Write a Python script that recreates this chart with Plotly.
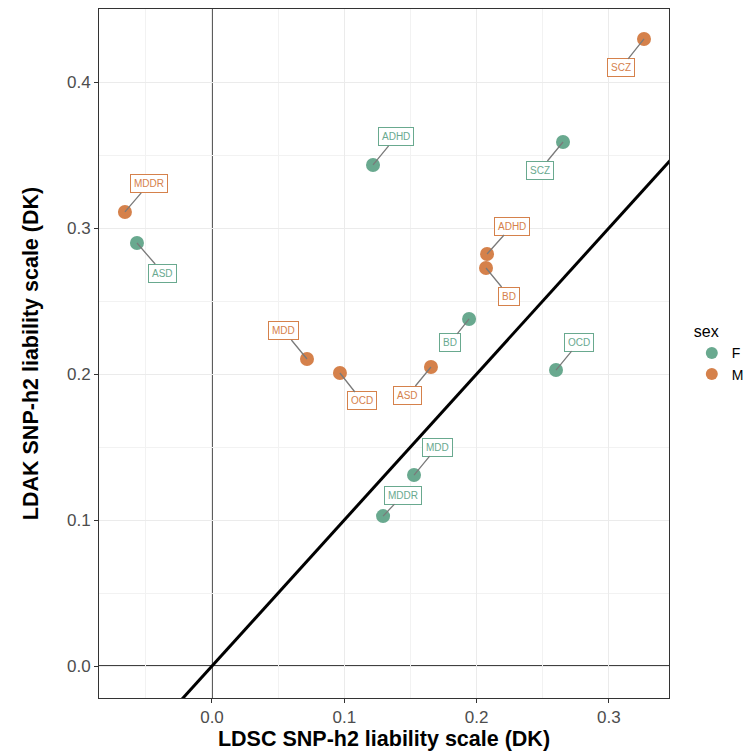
import plotly.graph_objects as go

# Data
traits = ["ADHD", "SCZ", "ASD", "BD", "OCD", "MDD", "MDDR"]
ldsc_F = [0.1217, 0.2653, -0.0567, 0.1943, 0.2600, 0.1527, 0.1293]
ldak_F = [0.3432, 0.3589, 0.2897, 0.2377, 0.2027, 0.1308, 0.1027]
traits_M = ["SCZ", "MDDR", "ADHD", "BD", "MDD", "OCD", "ASD"]
ldsc_M = [0.3265, -0.0658, 0.2079, 0.2071, 0.0718, 0.0967, 0.1655]
ldak_M = [0.4295, 0.3110, 0.2822, 0.2726, 0.2103, 0.2007, 0.2048]

x_ticks = [0.0, 0.1, 0.2, 0.3]
y_ticks = [0.0, 0.1, 0.2, 0.3, 0.4]

# label offsets (pixels) mimicking ggrepel placement
off_F = [(23, -28), (-23, 28), (26, 30), (-19, 24), (23, -28), (23, -28), (20, -21)]
off_M = [(-23, 29), (24, -28), (25, -28), (23, 28), (-23, -28), (22, 28), (-23, 28)]

col_F = "#69a98f"
col_M = "#d5814b"

fig = go.Figure()

# y = x reference line
fig.add_trace(go.Scatter(x=[-0.2, 0.5], y=[-0.2, 0.5], mode="lines",
                         line=dict(color="black", width=3), showlegend=False,
                         hoverinfo="skip"))

fig.add_trace(go.Scatter(x=ldsc_F, y=ldak_F, mode="markers", name="F",
                         marker=dict(color=col_F, size=14), text=traits))
fig.add_trace(go.Scatter(x=ldsc_M, y=ldak_M, mode="markers", name="M",
                         marker=dict(color=col_M, size=14), text=traits_M))

annotations = []
for labs, xs, ys, offs, col in [(traits, ldsc_F, ldak_F, off_F, col_F),
                                (traits_M, ldsc_M, ldak_M, off_M, col_M)]:
    for lab, xv, yv, (ax, ay) in zip(labs, xs, ys, offs):
        annotations.append(dict(x=xv, y=yv, text=lab, showarrow=True, arrowhead=0,
                                ax=ax, ay=ay, arrowcolor="#7a7a7a", arrowwidth=1.3,
                                font=dict(size=10, color=col, family="Liberation Sans"),
                                bgcolor="white", bordercolor=col, borderwidth=1,
                                borderpad=3, standoff=0))

# zero lines
shapes = [
    dict(type="line", xref="x", yref="paper", x0=0, x1=0, y0=0, y1=1,
         line=dict(color="black", width=1.3), layer="between"),
    dict(type="line", xref="paper", yref="y", x0=0, x1=1, y0=0, y1=0,
         line=dict(color="black", width=1.3), layer="between"),
]

fig.update_layout(
    width=744, height=751,
    margin=dict(l=99, r=75, t=9, b=53, autoexpand=False),
    paper_bgcolor="white", plot_bgcolor="white",
    font=dict(family="Liberation Sans", color="#4d4d4d"),
    annotations=annotations, shapes=shapes,
    legend=dict(title=dict(text="sex", font=dict(size=16, color="black")),
                x=1.04, xanchor="left", y=0.5, yanchor="middle",
                itemwidth=30,
                font=dict(size=14, color="black"), itemsizing="constant"),
)

fig.update_xaxes(range=[-0.0854, 0.3454], tickvals=x_ticks,
                 ticktext=[f"{v:.1f}" for v in x_ticks],
                 tickfont=dict(size=17, color="#4d4d4d"),
                 ticks="outside", ticklen=4, tickcolor="#333333",
                 showgrid=True, gridcolor="#ebebeb", gridwidth=1.2,
                 minor=dict(tickvals=[-0.05, 0.05, 0.15, 0.25], showgrid=True,
                            gridcolor="#f2f2f2", gridwidth=0.6),
                 zeroline=False, showline=True, linecolor="#333333",
                 linewidth=1, mirror=True,
                 title=dict(text="<b>LDSC SNP-h2 liability scale (DK)</b>",
                            font=dict(size=21.5, color="black"), standoff=3))
fig.update_yaxes(range=[-0.0219, 0.450], tickvals=y_ticks,
                 ticktext=[f"{v:.1f}" for v in y_ticks],
                 tickfont=dict(size=17, color="#4d4d4d"),
                 ticks="outside", ticklen=4, tickcolor="#333333",
                 showgrid=True, gridcolor="#ebebeb", gridwidth=1.2,
                 minor=dict(tickvals=[0.05, 0.15, 0.25, 0.35], showgrid=True,
                            gridcolor="#f2f2f2", gridwidth=0.6),
                 zeroline=False, showline=True, linecolor="#333333",
                 linewidth=1, mirror=True,
                 title=dict(text="<b>LDAK SNP-h2 liability scale (DK)</b>",
                            font=dict(size=21.5, color="black"), standoff=22))

fig.write_html("out.html")
